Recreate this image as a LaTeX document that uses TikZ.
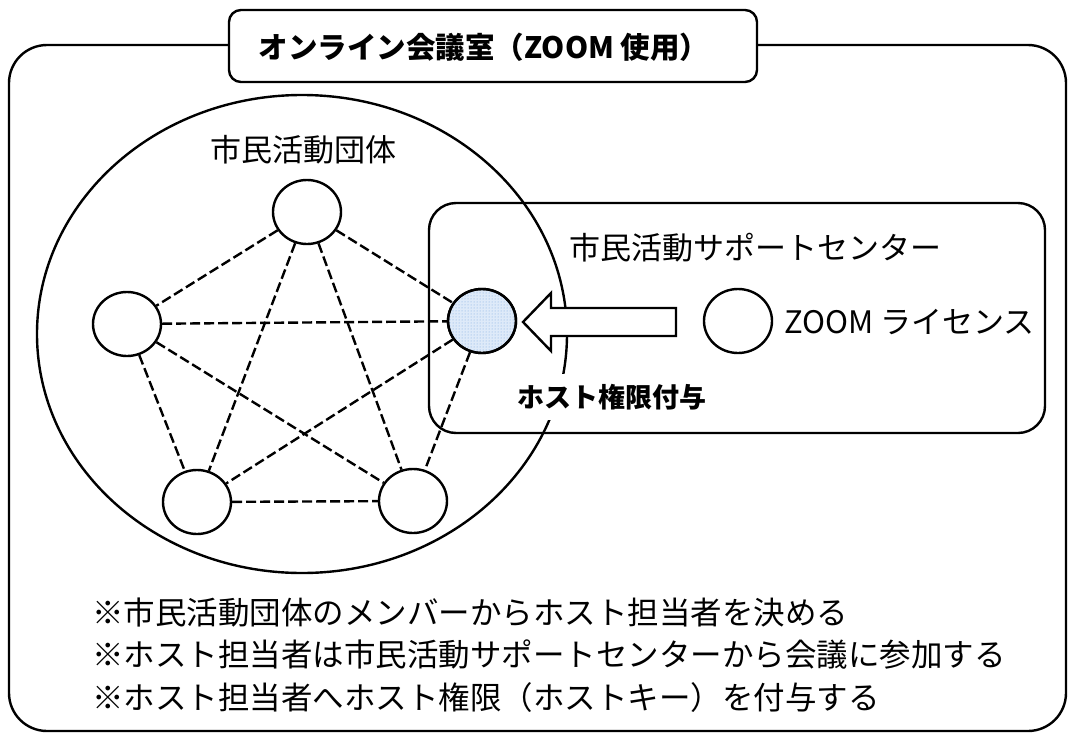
\documentclass[tikz,border=0pt]{standalone}
\usepackage{fontspec}
\setmainfont{Noto Sans CJK JP}
\usetikzlibrary{shapes.geometric,patterns}
\definecolor{dotbg}{RGB}{222,234,249}
\definecolor{dotblue}{RGB}{120,168,224}
\begin{document}
\begin{tikzpicture}[x=1pt,y=-1pt,
  member/.style={ellipse,draw,line width=2.4pt,minimum width=68pt,minimum height=64pt,inner sep=0pt,fill=white},
  link/.style={dash pattern=on 10pt off 4pt,line width=2.4pt},
  frame/.style={draw,line width=2.4pt},
  lbl/.style={font=\fontsize{31}{31}\selectfont,inner sep=0pt},
  note/.style={font=\fontsize{31.5}{31.5}\selectfont,anchor=west,inner sep=0pt}]
\useasboundingbox (0,0) rectangle (1069,734);
% outer frame
\draw[frame,rounded corners=38pt] (9,45) rectangle (1066,731);
% title
\node[frame,fill=white,rounded corners=12pt,minimum width=528pt,minimum height=72pt] (titlebox) at (493,46) {};
\node[font=\fontsize{29.5}{29.5}\selectfont\bfseries,inner sep=0pt] (title) at (484,47) {オンライン会議室（ZOOM 使用）};
% group ellipse
\node[ellipse,draw,line width=2.4pt,minimum width=530pt,minimum height=478pt,inner sep=0pt] (group) at (302,334) {};
\node[lbl] (grp) at (303,150) {市民活動団体};
% support center box
\node[frame,rounded corners=27pt,minimum width=616pt,minimum height=230pt] (center) at (737,318) {};
\node[lbl,anchor=west] (ctr) at (569,248) {市民活動サポートセンター};
% members
\node[member] (m1) at (307,212) {};
\node[member] (m2) at (127,324) {};
\node[member,fill=dotbg,postaction={pattern=dots,pattern color=dotblue}] (m3) at (482,321) {};
\node[member] (m4) at (197,502) {};
\node[member] (m5) at (413,501) {};
\draw[link] (m1) -- (m2);
\draw[link] (m1) -- (m3);
\draw[link] (m1) -- (m4);
\draw[link] (m1) -- (m5);
\draw[link] (m2) -- (m3);
\draw[link] (m2) -- (m4);
\draw[link] (m2) -- (m5);
\draw[link] (m3) -- (m4);
\draw[link] (m3) -- (m5);
\draw[link] (m4) -- (m5);
\draw[line width=2.4pt] (m3) ellipse [x radius=34pt,y radius=32pt];
% license
\node[member] (zc) at (738,321) {};
\node[lbl,anchor=west] (lic) at (784,322) {ZOOM ライセンス};
% block arrow
\draw[frame,fill=white,line join=miter] (676,308) -- (551,308) -- (551,293) -- (523,322)
  -- (551,351) -- (551,336) -- (676,336) -- cycle;
\node[font=\fontsize{27}{27}\selectfont\bfseries,fill=white,inner xsep=4pt,inner ysep=10pt] (host) at (612,397) {ホスト権限付与};
% notes
\node[note] (n1) at (92,613) {※市民活動団体のメンバーからホスト担当者を決める};
\node[note] (n2) at (92,655) {※ホスト担当者は市民活動サポートセンターから会議に参加する};
\node[note] (n3) at (92,698) {※ホスト担当者へホスト権限（ホストキー）を付与する};
\end{tikzpicture}
\end{document}
